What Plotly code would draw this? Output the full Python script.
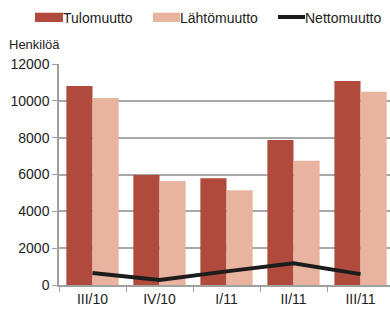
import plotly.graph_objects as go

categories = ["III/10", "IV/10", "I/11", "II/11", "III/11"]
tulomuutto = [10800, 5970, 5800, 7870, 11080]
lahtomuutto = [10150, 5650, 5150, 6750, 10500]
nettomuutto = [650, 270, 740, 1180, 590]
y_ticks = [0, 2000, 4000, 6000, 8000, 10000, 12000]
y_labels = ["0", "2000", "4000", "6000", "8000", "10000", "12000"]
series_names = ["Tulomuutto", "Lähtömuutto", "Nettomuutto"]

DARK = "#b04a3c"
LIGHT = "#e8b4a0"
LINE = "#1c1c1c"
FONT = "Liberation Sans, Arial, sans-serif"

W, H = 390, 309
L, R, T, B = 59, 0, 64, 24
PW, PH = W - L - R, H - T - B


def px(x):
    return (x - L) / PW


def py(y):
    return (H - B - y) / PH


fig = go.Figure()
fig.add_trace(go.Bar(x=categories, y=tulomuutto, marker_color=DARK, marker_line_width=0,
                     name=series_names[0]))
fig.add_trace(go.Bar(x=categories, y=lahtomuutto, marker_color=LIGHT, marker_line_width=0,
                     name=series_names[1]))
fig.add_trace(go.Scatter(x=categories, y=nettomuutto, mode="lines",
                         line=dict(color=LINE, width=4), name=series_names[2]))

shapes = [
    dict(type="rect", xref="paper", yref="paper", x0=px(35), x1=px(63), y0=py(22), y1=py(12.7),
         fillcolor=DARK, line_width=0),
    dict(type="rect", xref="paper", yref="paper", x0=px(153), x1=px(180), y0=py(22), y1=py(12.7),
         fillcolor=LIGHT, line_width=0),
    dict(type="line", xref="paper", yref="paper", x0=px(278), x1=px(305), y0=py(17), y1=py(17),
         line=dict(color=LINE, width=4)),
]
annotations = [
    dict(text="Henkilöä", xref="paper", yref="paper", x=px(7), y=py(44),
         xanchor="left", yanchor="middle", showarrow=False, font=dict(size=13)),
]
for nm, xx in zip(series_names, [63, 180, 305]):
    annotations.append(dict(text=nm, xref="paper", yref="paper", x=px(xx), y=py(17.5),
                            xanchor="left", yanchor="middle", showarrow=False,
                            font=dict(size=14), xshift=-2))

fig.update_layout(
    width=W, height=H,
    margin=dict(l=L, r=R, t=T, b=B, autoexpand=False),
    paper_bgcolor="white", plot_bgcolor="white",
    font=dict(family=FONT, size=14, color="#222"),
    barmode="group", bargap=0.22, bargroupgap=0,
    showlegend=False,
    xaxis=dict(range=[-0.5, 4.44], showline=True, linecolor="#a0a0a0", linewidth=1.5,
               ticks="outside", tickson="boundaries", ticklen=5, tickcolor="#a0a0a0",
               tickfont=dict(size=14), showgrid=False, automargin=False),
    yaxis=dict(range=[0, 12000], tickvals=y_ticks, ticktext=y_labels, showline=True,
               linecolor="#a0a0a0", linewidth=1.5, ticks="outside", ticklen=5,
               tickcolor="#a0a0a0", gridcolor="#a8a8a8", gridwidth=1.5, zeroline=False,
               tickfont=dict(size=14), automargin=False),
    shapes=shapes,
    annotations=annotations,
)
fig.write_html("out.html", config={"displayModeBar": False},
               post_script="document.body.style.margin='0';document.body.style.overflow='hidden';")
